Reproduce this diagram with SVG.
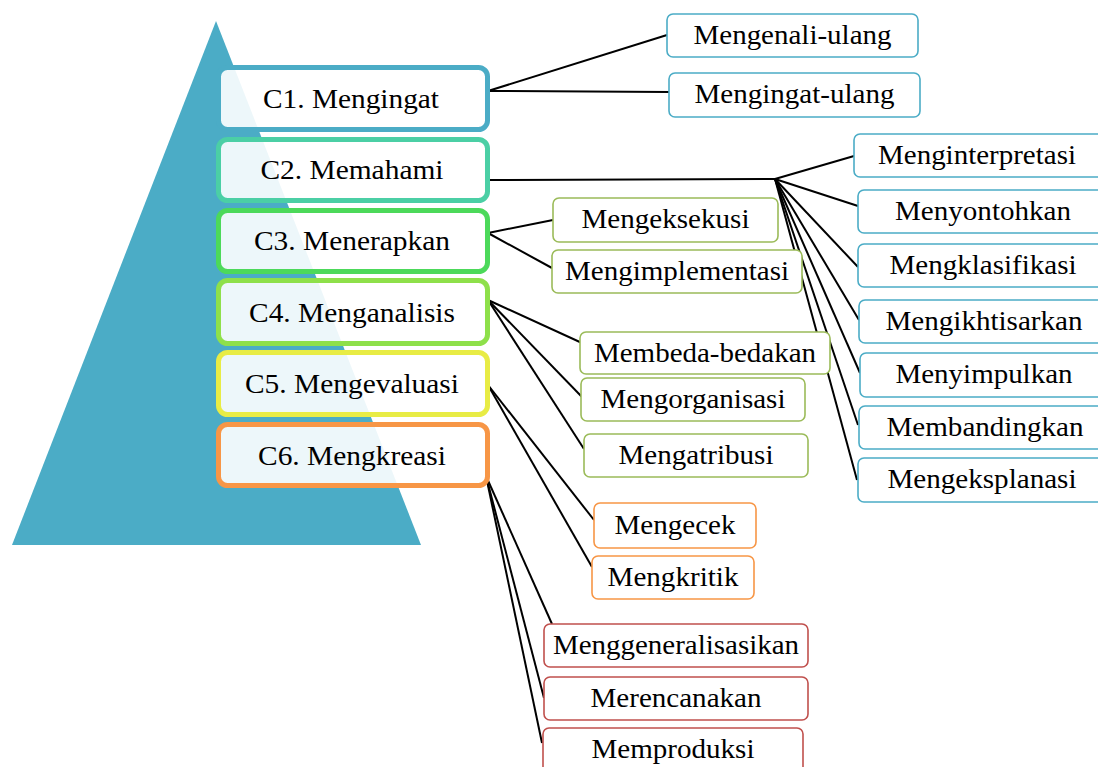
<svg xmlns="http://www.w3.org/2000/svg" width="1098" height="767" viewBox="0 0 1098 767">
<style>
.c{fill:#ffffff;fill-opacity:0.9;stroke-width:5}
.b{fill:#ffffff;stroke-width:1.6}
.blue{stroke:#4BACC6}
.green{stroke:#9BBB59}
.orange{stroke:#F79646}
.red{stroke:#C0504D}
text{font-family:'Liberation Serif','DejaVu Serif','Noto Serif',serif;fill:#000;text-anchor:middle}
.ct{font-size:28px}
.t{font-size:27px}
#connectors line{stroke:#000;stroke-width:2;fill:none}
</style>
<rect width="1098" height="767" fill="#ffffff"/>
<polygon id="pyramid" points="216,21 12,545 421,545" fill="#4BACC6"/>

<g id="connectors">
<line x1="488" y1="91" x2="667" y2="35"/>
<line x1="488" y1="91" x2="669" y2="92"/>
<line x1="488" y1="180" x2="775" y2="179"/>
<line x1="775" y1="179" x2="854" y2="156"/>
<line x1="775" y1="179" x2="858" y2="206"/>
<line x1="775" y1="179" x2="858" y2="267"/>
<line x1="775" y1="179" x2="859" y2="320"/>
<line x1="775" y1="179" x2="860" y2="373"/>
<line x1="775" y1="179" x2="858" y2="425"/>
<line x1="775" y1="179" x2="857" y2="480"/>
<line x1="488" y1="233" x2="553" y2="220"/>
<line x1="488" y1="233" x2="552" y2="268"/>
<line x1="488" y1="300" x2="582" y2="343"/>
<line x1="488" y1="300" x2="582" y2="397"/>
<line x1="488" y1="300" x2="584" y2="449"/>
<line x1="488" y1="385" x2="594" y2="520"/>
<line x1="488" y1="385" x2="592" y2="567"/>
<line x1="486" y1="476" x2="552" y2="624"/>
<line x1="486" y1="476" x2="544" y2="698"/>
<line x1="486" y1="476" x2="542" y2="743"/>
</g>

<g id="c1"><rect class="c blue" x="218.5" y="67.5" width="269" height="62" rx="9"/><text class="ct" x="351" y="108" textLength="176" lengthAdjust="spacingAndGlyphs">C1. Mengingat</text></g>
<g id="c2"><rect class="c" style="stroke:#4BCFA5" x="218.5" y="139.5" width="269" height="61" rx="9"/><text class="ct" x="352" y="179" textLength="183" lengthAdjust="spacingAndGlyphs">C2. Memahami</text></g>
<g id="c3"><rect class="c" style="stroke:#4CD95A" x="218.5" y="210.5" width="269" height="61" rx="9"/><text class="ct" x="352" y="250" textLength="196" lengthAdjust="spacingAndGlyphs">C3. Menerapkan</text></g>
<g id="c4"><rect class="c" style="stroke:#8EE04A" x="218.5" y="280.5" width="269" height="63" rx="9"/><text class="ct" x="352" y="322" textLength="206" lengthAdjust="spacingAndGlyphs">C4. Menganalisis</text></g>
<g id="c5"><rect class="c" style="stroke:#E8EC45" x="218.5" y="352.5" width="269" height="62" rx="9"/><text class="ct" x="352" y="393" textLength="214" lengthAdjust="spacingAndGlyphs">C5. Mengevaluasi</text></g>
<g id="c6"><rect class="c" style="stroke:#F79646" x="218.5" y="424.5" width="269" height="61" rx="9"/><text class="ct" x="352" y="465" textLength="188" lengthAdjust="spacingAndGlyphs">C6. Mengkreasi</text></g>

<g id="mengenali-ulang"><rect class="b blue" x="667" y="14" width="251" height="43" rx="6"/><text class="t" x="792.5" y="44" textLength="198" lengthAdjust="spacingAndGlyphs">Mengenali-ulang</text></g>
<g id="mengingat-ulang"><rect class="b blue" x="669" y="73" width="251" height="44" rx="6"/><text class="t" x="794.5" y="103" textLength="200" lengthAdjust="spacingAndGlyphs">Mengingat-ulang</text></g>

<g id="menginterpretasi"><rect class="b blue" x="854" y="134" width="256" height="43" rx="6"/><text class="t" x="977" y="164" textLength="198" lengthAdjust="spacingAndGlyphs">Menginterpretasi</text></g>
<g id="menyontohkan"><rect class="b blue" x="858" y="190" width="252" height="43" rx="6"/><text class="t" x="983" y="220" textLength="176" lengthAdjust="spacingAndGlyphs">Menyontohkan</text></g>
<g id="mengklasifikasi"><rect class="b blue" x="858" y="244" width="252" height="43" rx="6"/><text class="t" x="983" y="274" textLength="187" lengthAdjust="spacingAndGlyphs">Mengklasifikasi</text></g>
<g id="mengikhtisarkan"><rect class="b blue" x="859" y="300" width="251" height="43" rx="6"/><text class="t" x="984" y="330" textLength="197" lengthAdjust="spacingAndGlyphs">Mengikhtisarkan</text></g>
<g id="menyimpulkan"><rect class="b blue" x="860" y="353" width="250" height="44" rx="6"/><text class="t" x="984" y="383" textLength="177" lengthAdjust="spacingAndGlyphs">Menyimpulkan</text></g>
<g id="membandingkan"><rect class="b blue" x="859" y="406" width="251" height="43" rx="6"/><text class="t" x="985" y="436" textLength="197" lengthAdjust="spacingAndGlyphs">Membandingkan</text></g>
<g id="mengeksplanasi"><rect class="b blue" x="858" y="458" width="252" height="44" rx="6"/><text class="t" x="982" y="488" textLength="189" lengthAdjust="spacingAndGlyphs">Mengeksplanasi</text></g>

<g id="mengeksekusi"><rect class="b green" x="553" y="198" width="225" height="44" rx="6"/><text class="t" x="665.5" y="228" textLength="168" lengthAdjust="spacingAndGlyphs">Mengeksekusi</text></g>
<g id="mengimplementasi"><rect class="b green" x="552" y="250" width="250" height="43" rx="6"/><text class="t" x="677" y="280" textLength="224" lengthAdjust="spacingAndGlyphs">Mengimplementasi</text></g>

<g id="membeda-bedakan"><rect class="b green" x="580" y="332" width="250" height="42" rx="6"/><text class="t" x="705" y="362" textLength="222" lengthAdjust="spacingAndGlyphs">Membeda-bedakan</text></g>
<g id="mengorganisasi"><rect class="b green" x="581" y="378" width="224" height="43" rx="6"/><text class="t" x="693" y="408" textLength="185" lengthAdjust="spacingAndGlyphs">Mengorganisasi</text></g>
<g id="mengatribusi"><rect class="b green" x="584" y="434" width="224" height="43" rx="6"/><text class="t" x="696" y="464" textLength="155" lengthAdjust="spacingAndGlyphs">Mengatribusi</text></g>

<g id="mengecek"><rect class="b orange" x="594" y="503" width="162" height="45" rx="6"/><text class="t" x="675" y="534" textLength="121" lengthAdjust="spacingAndGlyphs">Mengecek</text></g>
<g id="mengkritik"><rect class="b orange" x="592" y="556" width="162" height="43" rx="6"/><text class="t" x="673" y="586" textLength="131" lengthAdjust="spacingAndGlyphs">Mengkritik</text></g>

<g id="menggeneralisasikan"><rect class="b red" x="544" y="624" width="264" height="43" rx="6"/><text class="t" x="676" y="654" textLength="246" lengthAdjust="spacingAndGlyphs">Menggeneralisasikan</text></g>
<g id="merencanakan"><rect class="b red" x="544" y="677" width="264" height="43" rx="6"/><text class="t" x="676" y="707" textLength="171" lengthAdjust="spacingAndGlyphs">Merencanakan</text></g>
<g id="memproduksi"><rect class="b red" x="543" y="728" width="260" height="45" rx="6"/><text class="t" x="673" y="758" textLength="163" lengthAdjust="spacingAndGlyphs">Memproduksi</text></g>
</svg>
